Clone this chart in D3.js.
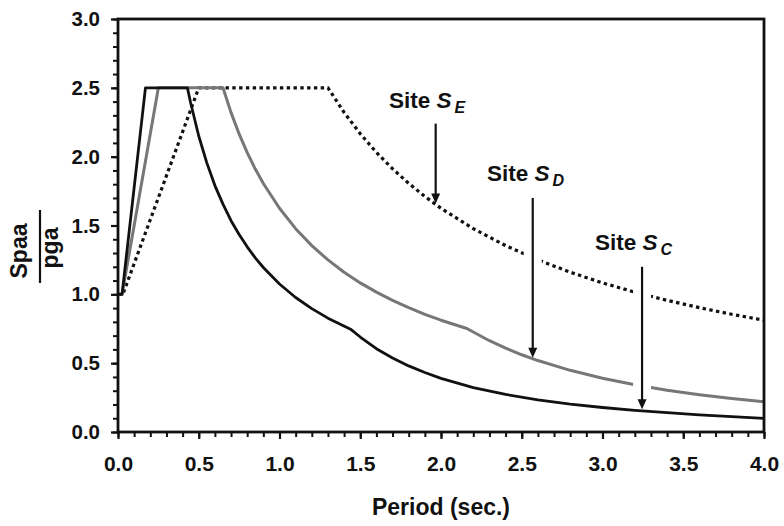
<!DOCTYPE html>
<html>
<head>
<meta charset="utf-8">
<script src="https://cdn.jsdelivr.net/npm/d3@7"></script>
<style>
  html, body { margin: 0; padding: 0; background: #fff; }
  svg { display: block; }
  text { font-family: "Liberation Sans", Arial, sans-serif; font-weight: bold; fill: #111; }
</style>
</head>
<body>
<svg id="chart" width="784" height="526"></svg>
<script>
// ---------------- data ----------------
const xMajorTicks = [0, 0.5, 1.0, 1.5, 2.0, 2.5, 3.0, 3.5, 4.0];
const yMajorTicks = [0, 0.5, 1.0, 1.5, 2.0, 2.5, 3.0];

// Site S_C (black solid)
const siteC_T = [0, 0.025, 0.17, 0.43, 0.45, 0.5, 0.55, 0.6, 0.65, 0.7, 0.75, 0.8, 0.85, 0.9, 1.0, 1.1, 1.2, 1.3, 1.44,
                 1.5, 1.6, 1.7, 1.8, 1.9, 2.0, 2.2, 2.4, 2.6, 2.8, 3.0, 3.2, 3.4, 3.6, 3.8, 4.0];
const siteC_V = [1.0, 1.0, 2.5, 2.5, 2.39, 2.15, 1.955, 1.79, 1.655, 1.535, 1.435, 1.345, 1.265, 1.195, 1.075, 0.977, 0.896, 0.827, 0.747,
                 0.69, 0.605, 0.537, 0.48, 0.432, 0.39, 0.323, 0.273, 0.234, 0.203, 0.178, 0.157, 0.14, 0.125, 0.111, 0.099];

// Site S_D (grey solid)
const siteD_T = [0, 0.025, 0.25, 0.65, 0.7, 0.75, 0.8, 0.85, 0.9, 1.0, 1.1, 1.2, 1.3, 1.4, 1.5, 1.6, 1.7, 1.8, 1.9, 2.0, 2.16,
                 2.3, 2.4, 2.5, 2.6, 2.8, 3.0, 3.2, 3.4, 3.6, 3.8, 4.0];
const siteD_V = [1.0, 1.0, 2.5, 2.5, 2.32, 2.165, 2.03, 1.91, 1.805, 1.625, 1.477, 1.354, 1.25, 1.16, 1.083, 1.016, 0.956, 0.903, 0.855, 0.812, 0.752,
                 0.663, 0.609, 0.561, 0.519, 0.448, 0.39, 0.343, 0.304, 0.271, 0.243, 0.219];

// Site S_E (black dotted)
const siteE_T = [0, 0.03, 0.5, 1.3, 1.4, 1.5, 1.6, 1.7, 1.8, 1.9, 2.0, 2.2, 2.4, 2.6, 2.8, 3.0, 3.2, 3.4, 3.6, 3.8, 4.0];
const siteE_V = [1.0, 1.0, 2.5, 2.5, 2.321, 2.167, 2.031, 1.912, 1.806, 1.711, 1.625, 1.477, 1.354, 1.25, 1.161, 1.083, 1.016, 0.956, 0.903, 0.855, 0.8125];

// annotations (data units)
const siteLetters   = ["E", "D", "C"];
const arrowPeriod   = [1.967, 2.568, 3.245];
const arrowTipValue = [1.66, 0.54, 0.165];
const arrowTailValue= [2.24, 1.70, 1.20];
const labelPeriod   = [1.678, 2.285, 2.954];
const labelValue    = [2.355, 1.826, 1.319];

// ---------------- chart ----------------
const svg = d3.select("#chart");
const plot = { left: 118, right: 764, top: 19, bottom: 432 };

const x = d3.scaleLinear().domain([0, 4]).range([plot.left, plot.right]);
const y = d3.scaleLinear().domain([0, 3]).range([plot.bottom, plot.top]);

const line = d3.line().x(d => x(d[0])).y(d => y(d[1]));
const zip = (a, b) => a.map((t, i) => [t, b[i]]);

// curves
svg.append("path").datum(zip(siteE_T, siteE_V))
  .attr("d", line).attr("fill", "none")
  .attr("stroke", "#111").attr("stroke-width", 3.2)
  .attr("stroke-dasharray", "3.4,3.4");

svg.append("path").datum(zip(siteD_T, siteD_V))
  .attr("d", line).attr("fill", "none")
  .attr("stroke", "#777").attr("stroke-width", 3)
  .attr("stroke-linejoin", "round");

svg.append("path").datum(zip(siteC_T, siteC_V))
  .attr("d", line).attr("fill", "none")
  .attr("stroke", "#111").attr("stroke-width", 2.8)
  .attr("stroke-linejoin", "round");

// arrows with white halo
const headLen = 10, headHalf = 4.5;
siteLetters.forEach((s, i) => {
  const ax = x(arrowPeriod[i]);
  const tipY = y(arrowTipValue[i]);
  const tailY = y(arrowTailValue[i]);
  svg.append("line")
    .attr("x1", ax).attr("x2", ax)
    .attr("y1", tailY).attr("y2", tipY - 16)
    .attr("stroke", "#fff").attr("stroke-width", 18);
  svg.append("line")
    .attr("x1", ax).attr("x2", ax)
    .attr("y1", tailY).attr("y2", tipY - headLen + 1)
    .attr("stroke", "#111").attr("stroke-width", 2.2);
  svg.append("path")
    .attr("d", `M${ax - headHalf},${tipY - headLen} L${ax + headHalf},${tipY - headLen} L${ax},${tipY} Z`)
    .attr("fill", "#111");

  const t = svg.append("text")
    .attr("x", x(labelPeriod[i])).attr("y", y(labelValue[i]))
    .attr("font-size", 22.5);
  t.append("tspan").text("Site ");
  t.append("tspan").attr("font-style", "italic").text("S");
  t.append("tspan").attr("font-style", "italic").attr("font-size", 16)
    .attr("dx", 3).attr("dy", 5).text(s);
});

// axes: minor ticks
svg.append("g").attr("transform", `translate(0,${plot.bottom})`)
  .call(d3.axisBottom(x).tickValues(d3.range(0, 41).map(i => i / 10)).tickSize(5).tickFormat(""))
  .call(g => g.select(".domain").remove())
  .call(g => g.selectAll("line").attr("stroke", "#111").attr("stroke-width", 2));
svg.append("g").attr("transform", `translate(${plot.left},0)`)
  .call(d3.axisLeft(y).tickValues(d3.range(0, 31).map(i => i / 10)).tickSize(5).tickFormat(""))
  .call(g => g.select(".domain").remove())
  .call(g => g.selectAll("line").attr("stroke", "#111").attr("stroke-width", 2));

// axes: major ticks + labels
svg.append("g").attr("transform", `translate(0,${plot.bottom})`)
  .call(d3.axisBottom(x).tickValues(xMajorTicks).tickSize(7).tickPadding(17).tickFormat(d3.format(".1f")))
  .call(g => g.select(".domain").remove())
  .call(g => g.selectAll("line").attr("stroke", "#111").attr("stroke-width", 2.2))
  .call(g => g.selectAll("text").attr("font-size", 21).attr("font-family", "Liberation Sans, Arial, sans-serif").attr("font-weight", "bold").attr("fill", "#111"));
svg.append("g").attr("transform", `translate(${plot.left},0)`)
  .call(d3.axisLeft(y).tickValues(yMajorTicks).tickSize(7).tickPadding(11).tickFormat(d3.format(".1f")))
  .call(g => g.select(".domain").remove())
  .call(g => g.selectAll("line").attr("stroke", "#111").attr("stroke-width", 2.2))
  .call(g => g.selectAll("text").attr("font-size", 20.5).attr("font-family", "Liberation Sans, Arial, sans-serif").attr("font-weight", "bold").attr("fill", "#111"));

// frame
svg.append("rect")
  .attr("x", plot.left).attr("y", plot.top)
  .attr("width", plot.right - plot.left).attr("height", plot.bottom - plot.top)
  .attr("fill", "none").attr("stroke", "#111").attr("stroke-width", 2.8);

// axis titles
svg.append("text")
  .attr("x", (plot.left + plot.right) / 2).attr("y", 515)
  .attr("text-anchor", "middle").attr("font-size", 23)
  .text("Period (sec.)");

svg.append("text")
  .attr("transform", "translate(27,251) rotate(-90)")
  .attr("text-anchor", "middle").attr("font-size", 23)
  .text("Spaa");
svg.append("line")
  .attr("x1", 40).attr("x2", 40).attr("y1", 210).attr("y2", 283)
  .attr("stroke", "#111").attr("stroke-width", 2.2);
svg.append("text")
  .attr("transform", "translate(58,248) rotate(-90)")
  .attr("text-anchor", "middle").attr("font-size", 23)
  .text("pga");
</script>
</body>
</html>
